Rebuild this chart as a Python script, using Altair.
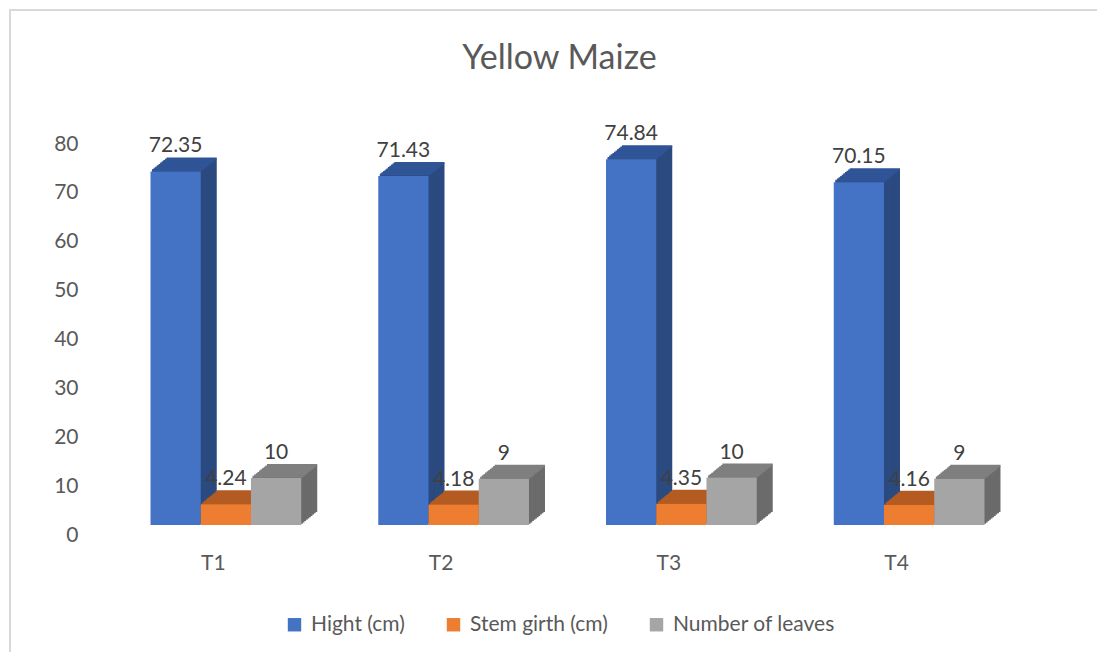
import altair as alt
import pandas as pd

categories = ["T1", "T2", "T3", "T4"]
series = ["Hight (cm)", "Stem girth (cm)", "Number of leaves"]
hight = [72.35, 71.43, 74.84, 70.15]
stem_girth = [4.24, 4.18, 4.35, 4.16]
leaves = [9.6, 9.45, 9.7, 9.45]
label_formats = [".2f", ".2f", ".0f"]

front_colors = ["#4472C4", "#ED7D31", "#A5A5A5"]
top_colors = ["#2F5597", "#B45B22", "#7F7F7F"]
side_colors = ["#2B4A80", "#9E4E1B", "#6B6B6B"]

values = [hight, stem_girth, leaves]
rows = []
for s, vals in zip(series, values):
    for c, v in zip(categories, vals):
        rows.append({"cat": c, "series": s, "value": v})
df = pd.DataFrame(rows)

FONT = "Lato"
W, H = 911, 391
DX, DY = 16.0, -13.0
N = 10
BAR = 0.2206  # bar width as a fraction of the category step

cat_list = "[" + ",".join(f"'{c}'" for c in categories) + "]"
ser_list = "[" + ",".join(f"'{s}'" for s in series) + "]"

base = alt.Chart(df).transform_calculate(
    ci=f"indexof({cat_list}, datum.cat)",
    si=f"indexof({ser_list}, datum.series)",
).transform_calculate(
    x0=f"datum.ci + (datum.si - 1.5) * {BAR}",
).transform_calculate(
    x1=f"datum.x0 + {BAR}",
    xm=f"datum.x0 + {BAR} / 2",
)

x_scale = alt.Scale(domain=[-0.5, 3.5], nice=False, zero=False)
x_axis = alt.Axis(title=None, domain=False, ticks=False, grid=False, labelAngle=0,
                  values=[0, 1, 2, 3], labelExpr=f"{cat_list}[datum.value]",
                  labelFlush=False, labelOverlap=False,
                  labelFont=FONT, labelFontSize=21, labelColor="#595959",
                  labelPadding=27, labelOffset=-13)
y_scale = alt.Scale(domain=[0, 80], nice=False)
y_axis = alt.Axis(title=None, domain=False, ticks=False, grid=False,
                  values=[0, 10, 20, 30, 40, 50, 60, 70, 80],
                  labelFont=FONT, labelFontSize=21, labelColor="#595959",
                  labelPadding=34, labelOffset=10)
y_enc = alt.Y("value:Q", scale=y_scale, axis=y_axis)
color_enc = alt.Color("series:N", sort=series,
                      scale=alt.Scale(domain=series, range=front_colors),
                      legend=alt.Legend(title=None, orient="none", direction="horizontal",
                                        legendX=172, legendY=480,
                                        symbolType="square", symbolSize=180,
                                        symbolStrokeWidth=0, labelLimit=0,
                                        labelFont=FONT, labelFontSize=21,
                                        labelColor="#595959", columnPadding=38,
                                        labelOffset=6))

frame_src = alt.Chart(pd.DataFrame({"a": [0]}))
border_left = frame_src.mark_rule(stroke="#D9D9D9", strokeWidth=2).encode(
    x=alt.value(-102), y=alt.value(-124), y2=alt.value(700))
border_top = frame_src.mark_rule(stroke="#D9D9D9", strokeWidth=2).encode(
    x=alt.value(-103), x2=alt.value(1100), y=alt.value(-124))

def xenc():
    return alt.X("x0:Q", scale=x_scale, axis=x_axis)

layers = [border_left, border_top]
for i, s in enumerate(series):
    sub = base.transform_filter(alt.datum.series == s)
    for k in range(N, 0, -1):
        ox, oy = DX * k / N, DY * k / N
        layers.append(sub.mark_bar(color=side_colors[i], xOffset=ox, x2Offset=ox,
                                   yOffset=oy, y2Offset=oy, strokeWidth=0).encode(
            x=xenc(), x2="x1:Q", y=y_enc, y2=alt.datum(0)))
    for k in range(N, 0, -1):
        ox, oy = DX * k / N, DY * k / N
        layers.append(sub.mark_rule(color=top_colors[i], xOffset=ox, x2Offset=ox,
                                    yOffset=oy, strokeWidth=2).encode(
            x=xenc(), x2="x1:Q", y=y_enc))
    layers.append(sub.mark_bar(strokeWidth=0).encode(
        x=xenc(), x2="x1:Q", y=y_enc, y2=alt.datum(0), color=color_enc))

for i, s in enumerate(series):
    sub = base.transform_filter(alt.datum.series == s)
    layers.append(sub.mark_text(font=FONT, fontSize=21, color="#404040",
                                dy=-25, baseline="middle").encode(
        x=alt.X("xm:Q", scale=x_scale, axis=x_axis), y=y_enc,
        text=alt.Text("value:Q", format=label_formats[i])))

chart = alt.layer(*layers).properties(
    width=W, height=H,
    autosize=alt.AutoSizeParams(type="none"),
    padding={"left": 104, "top": 126, "right": 74, "bottom": 127},
    title=alt.TitleParams("Yellow Maize", font=FONT, fontSize=34, fontWeight="normal",
                          color="#595959", anchor="middle", offset=-67, dx=-8),
).configure_view(stroke=None)

chart.save("out.html", embed_options={"renderer": "svg", "actions": False})
